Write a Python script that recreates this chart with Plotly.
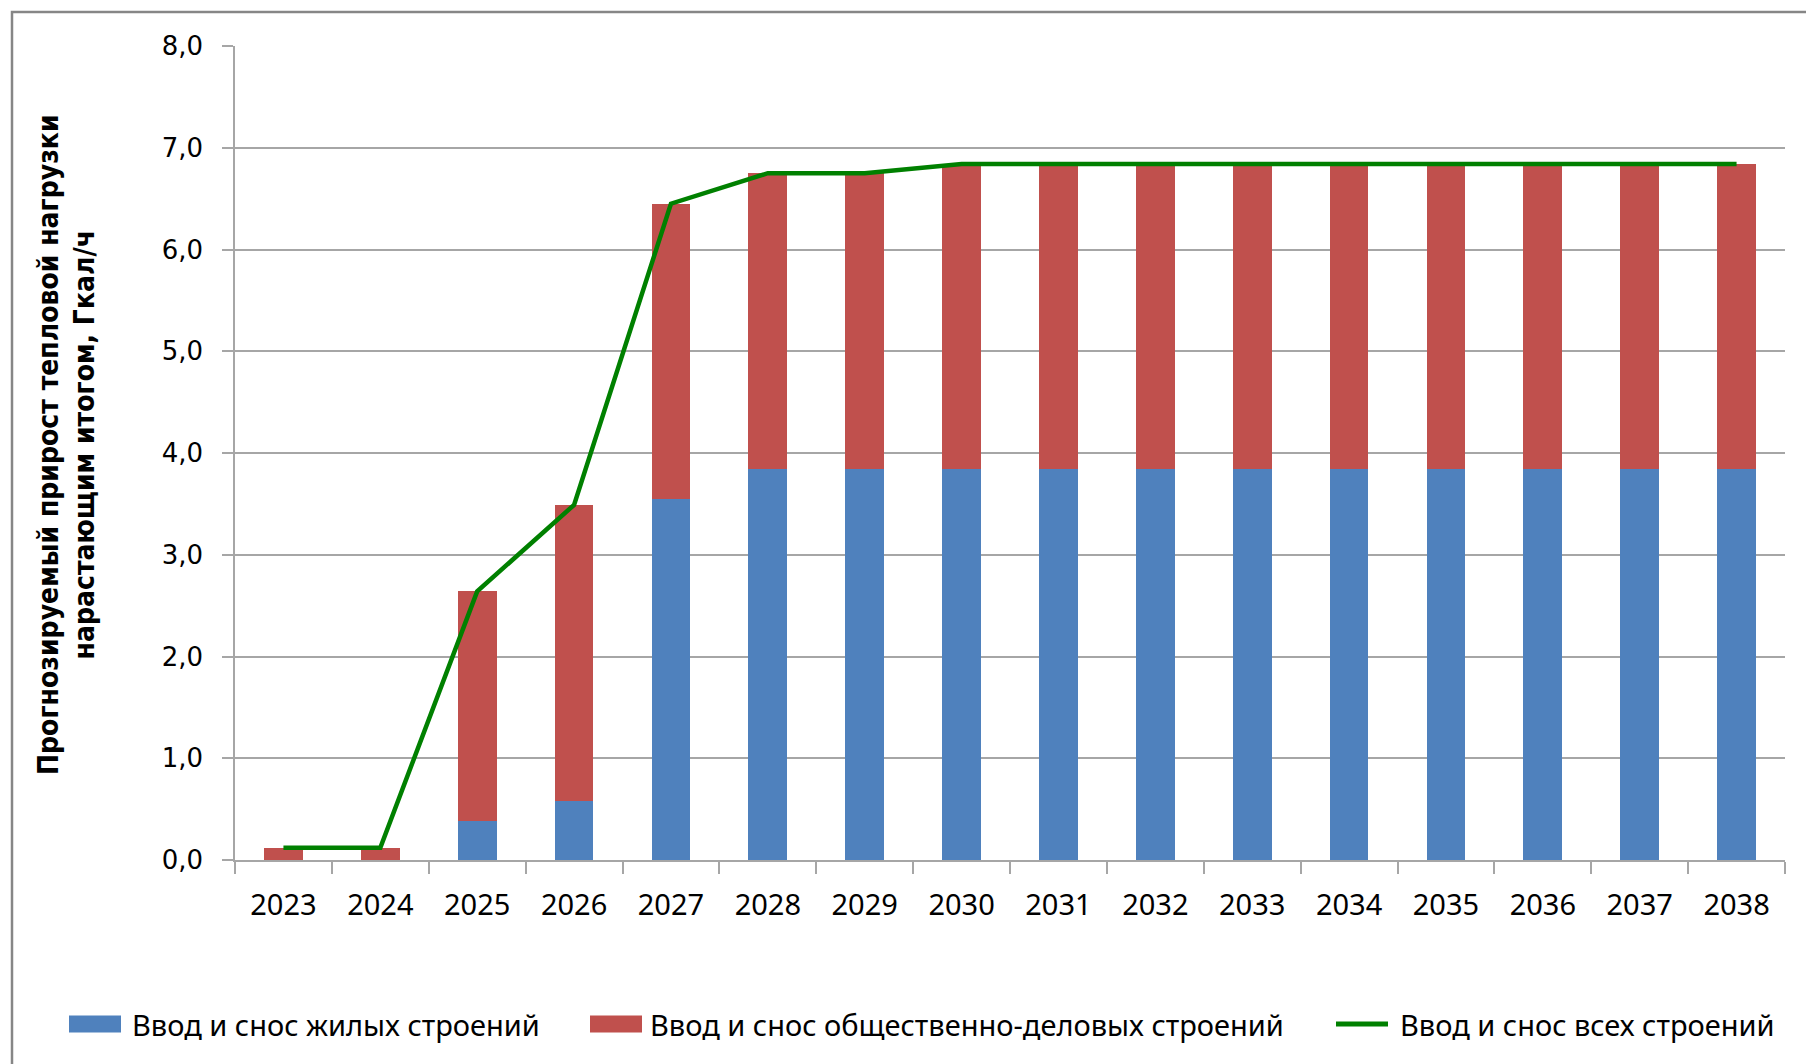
import plotly.graph_objects as go

# годы прогноза
years = [str(y) for y in range(2023, 2039)]

# прирост нагрузки, Гкал/ч (нарастающим итогом)
zhil = [0.0, 0.0, 0.38, 0.58, 3.55, 3.84, 3.84, 3.84, 3.84, 3.84, 3.84, 3.84, 3.84, 3.84, 3.84, 3.84]
obshch = [0.12, 0.12, 2.26, 2.91, 2.90, 2.91, 2.91, 3.00, 3.00, 3.00, 3.00, 3.00, 3.00, 3.00, 3.00, 3.00]
vse = [0.12, 0.12, 2.64, 3.49, 6.45, 6.75, 6.75, 6.84, 6.84, 6.84, 6.84, 6.84, 6.84, 6.84, 6.84, 6.84]

names = ['Ввод и снос жилых строений',
         'Ввод и снос общественно-деловых строений',
         'Ввод и снос всех строений']
colors = ['#4F81BD', '#C0504D', '#008000']

## la page html ajoute une marge de 8 px autour de la figure
OFF = 8
W, H = 1814 - OFF, 1064 - OFF
# zone de tracé (pixels écran)
X0, X1, Y0, Y1 = 235, 1785, 46, 860
L, R, T, B = X0 - OFF, W - (X1 - OFF), Y0 - OFF, H - (Y1 - OFF)
pw, ph = W - L - R, H - T - B

## pixels écran -> coordonnées paper
def px_x(x): return (x - X0) / pw
def px_y(y): return (Y1 - y) / ph

font_main = 'Noto Sans'

fig = go.Figure()
fig.add_trace(go.Bar(x=years, y=zhil, name=names[0], marker_color=colors[0],
                     marker_line_width=0))
fig.add_trace(go.Bar(x=years, y=obshch, name=names[1], marker_color=colors[1],
                     marker_line_width=0))
fig.add_trace(go.Scatter(x=years, y=vse, name=names[2], mode='lines',
                         line=dict(color=colors[2], width=4.5)))

## légende manuelle : échantillon + libellé
leg_swatch = [69, 590, 1336]
leg_text = [130, 648, 1398]
leg_y = 1024
shapes = []
annotations = []
for i in range(3):
    x0, x1 = px_x(leg_swatch[i]), px_x(leg_swatch[i] + 52)
    if i < 2:
        shapes.append(dict(type='rect', xref='paper', yref='paper',
                           x0=x0, x1=x1, y0=px_y(leg_y - 8.5), y1=px_y(leg_y + 8.5),
                           fillcolor=colors[i], line_width=0))
    else:
        shapes.append(dict(type='line', xref='paper', yref='paper',
                           x0=x0, x1=x1, y0=px_y(leg_y), y1=px_y(leg_y),
                           line=dict(color=colors[i], width=5)))
    annotations.append(dict(text=names[i], xref='paper', yref='paper',
                            x=px_x(leg_text[i]), y=px_y(leg_y),
                            xanchor='left', yanchor='middle', showarrow=False,
                            font=dict(family=font_main, size=29, color='#000000')))

## titre axe y
annotations.append(dict(
    text='Прогнозируемый прирост тепловой нагрузки<br>нарастающим итогом, Гкал/ч',
    xref='paper', yref='paper', x=px_x(66), y=px_y(445),
    xanchor='center', yanchor='middle', textangle=-90, showarrow=False,
    font=dict(family='Liberation Sans Narrow, DejaVu Sans Condensed, Noto Sans',
              size=28, color='#000000', weight='bold')))

## cadre
shapes.append(dict(type='rect', xref='paper', yref='paper',
                   x0=px_x(12), y0=px_y(12), x1=px_x(1814 + 20), y1=px_y(1064 + 20),
                   line=dict(color='#868686', width=2.5), layer='below'))

fig.update_layout(
    width=W, height=H,
    margin=dict(l=L, r=R, t=T, b=B, autoexpand=False),
    barmode='stack', bargap=0.6,
    showlegend=False,
    paper_bgcolor='white', plot_bgcolor='white',
    separators=', ',
    xaxis=dict(type='category', tickson='boundaries', ticks='outside', ticklen=12,
               tickcolor='#A6A6A6', tickwidth=1.5,
               showline=True, linecolor='#A6A6A6', linewidth=1.5,
               showgrid=False, ticklabelstandoff=18,
               tickfont=dict(family=font_main, size=29, color='#000000')),
    yaxis=dict(range=[0, 8], dtick=1, tickformat='.1f', ticks='outside', ticklen=11,
               tickcolor='#A6A6A6', tickwidth=1.5,
               showline=True, linecolor='#A6A6A6', linewidth=1.5,
               gridcolor='#A6A6A6', gridwidth=1.5, zeroline=False,
               ticklabelstandoff=14,
               tickfont=dict(family='DejaVu Sans', size=26, color='#000000')),
    annotations=annotations,
    shapes=shapes,
)

fig.write_html('out.html')
